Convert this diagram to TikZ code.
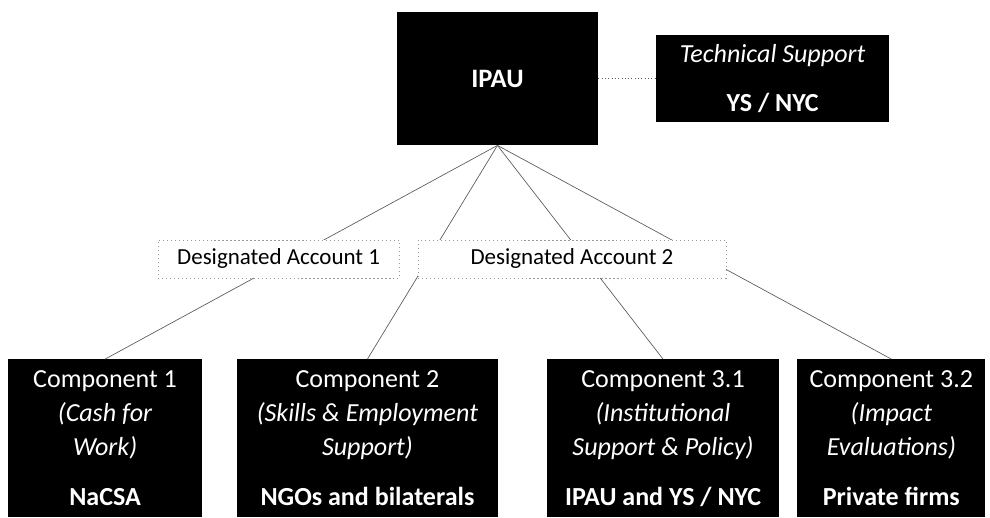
\documentclass[tikz,border=0pt]{standalone}
\usepackage{fontspec}
\setmainfont{Carlito}
\usetikzlibrary{positioning}

\tikzset{
  darkbox/.style={fill=black, text=white, inner sep=0pt, align=center},
  accbox/.style={draw=gray!80, dash pattern=on 1pt off 2pt, fill=white,
    inner sep=0pt, minimum height=1cm, font=\fontsize{17.3}{21}\selectfont},
  link/.style={gray!70!black, line width=0.5pt},
}

\begin{document}
\begin{tikzpicture}[
    every node/.style={font=\fontsize{19.6}{25.5}\selectfont},
]
\useasboundingbox (0,0) rectangle (26.19,13.68);

% === Top level ===
\node[darkbox, minimum width=5.32cm, minimum height=3.52cm,
  font=\fontsize{20}{24}\selectfont\bfseries] (ipau) at (13.16,11.60) {IPAU};
\node[darkbox, minimum width=6.16cm, minimum height=2.30cm] (tech) at (20.44,11.60)
  {\textit{Technical Support}\\[0.4cm] \textbf{YS / NYC}};
\draw[link, dotted] (ipau) -- (tech);

% === Components ===
\node[darkbox, anchor=north, minimum width=5.13cm, minimum height=4.18cm] (comp1) at (2.78,4.18)
  {Component 1\\ \textit{(Cash for}\\ \textit{Work)}\\[12pt] \textbf{NaCSA}};
\node[darkbox, anchor=north, minimum width=6.91cm, minimum height=4.18cm] (comp2) at (9.72,4.18)
  {Component 2\\ \textit{(Skills \& Employment}\\ \textit{Support)}\\[12pt] \textbf{NGOs and bilaterals}};
\node[darkbox, anchor=north, minimum width=6.14cm, minimum height=4.18cm] (comp31) at (17.54,4.18)
  {Component 3.1\\ \textit{(Institutional}\\ \textit{Support \& Policy)}\\[12pt] \textbf{IPAU and YS / NYC}};
\node[darkbox, anchor=north, minimum width=4.97cm, minimum height=4.18cm] (comp32) at (23.58,4.18)
  {Component 3.2\\ \textit{(Impact}\\ \textit{Evaluations)}\\[12pt] \textbf{Private firms}};

% === Flows (behind the accounts) ===
\foreach \c in {comp1, comp2, comp31, comp32}
  \draw[link] (ipau.south) -- (\c.north);

% === Designated accounts ===
\node[accbox, minimum width=6.38cm] (acc1) at (7.37,6.83) {Designated Account 1};
\node[accbox, minimum width=8.15cm] (acc2) at (15.13,6.83) {Designated Account 2};

\end{tikzpicture}
\end{document}
